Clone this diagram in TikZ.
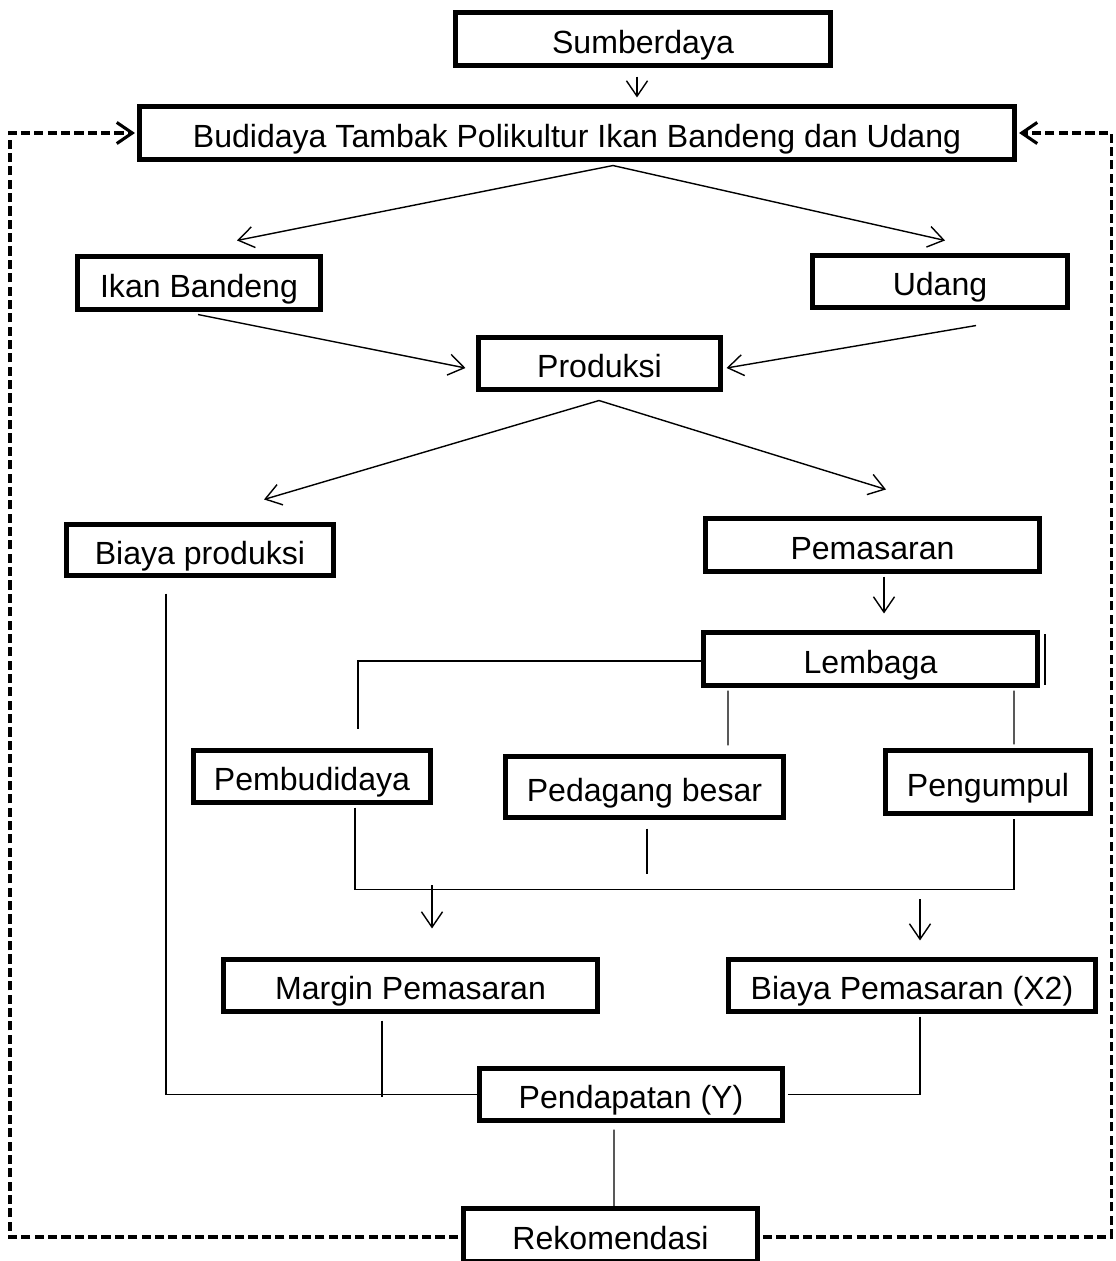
\documentclass[tikz,border=0pt]{standalone}
\usepackage{fontspec}
\setmainfont{Liberation Sans}
\usetikzlibrary{calc,arrows.meta,positioning}
\newlength\px
\setlength\px{0.025cm}

\begin{document}
\begin{tikzpicture}
[x=1\px, y=-1\px,
blok/.style={rectangle, draw, line width=3.6pt, inner sep=0pt, text height=20pt, text depth=0pt, font=\fontsize{22.8}{27}\selectfont},
garis/.style={line width=1pt},
umpan/.style={line width=2.2pt, dash pattern=on 6.5pt off 3pt},
>={Straight Barb[length=11pt, width=15pt]}]

	\useasboundingbox (0,0) rectangle (1116,1261);

	\node (sumb) at (643,39) [blok, minimum width=375\px, minimum height=53\px]{Sumberdaya};
	\node (budi) at (577,133) [blok, minimum width=875\px, minimum height=53\px]{Budidaya Tambak Polikultur Ikan Bandeng dan Udang};
	\node (ikan) at (199,283) [blok, minimum width=243\px, minimum height=53\px]{Ikan Bandeng};
	\node (udang) at (940,281.5) [blok, minimum width=255\px, minimum height=52\px]{Udang};
	\node (prod) at (599.5,363.5) [blok, minimum width=242\px, minimum height=52\px]{Produksi};
	\node (biaya) at (200,550) [blok, minimum width=267\px, minimum height=51\px]{Biaya produksi};
	\node (pemas) at (872.5,545) [blok, minimum width=334\px, minimum height=53\px]{Pemasaran};
	\node (lemb) at (870.5,659) [blok, minimum width=334\px, minimum height=53\px]{Lembaga};
	\node (pembu) at (312,776.5) [blok, minimum width=237\px, minimum height=52\px]{Pembudidaya};
	\node (pedag) at (644.5,787) [blok, minimum width=278\px, minimum height=61\px]{Pedagang besar};
	\node (pengu) at (988,782) [blok, minimum width=205\px, minimum height=63\px]{Pengumpul};
	\node (margin) at (410.5,985.5) [blok, minimum width=374\px, minimum height=52\px]{Margin Pemasaran};
	\node (bpem) at (912,985.5) [blok, minimum width=367\px, minimum height=52\px]{Biaya Pemasaran (X2)};
	\node (pend) at (631,1094.5) [blok, minimum width=303\px, minimum height=52\px]{Pendapatan (Y)};
	\node (rekom) at (610.5,1235) [blok, minimum width=294\px, minimum height=53\px]{Rekomendasi};

	% alur produksi
	\draw[garis,->] ($(sumb.south)+(-6,8.5)$) -- ($(budi.north)+(60,-6.5)$);
	\draw[garis,->] ($(budi.south)+(36,3.5)$) -- ($(ikan.north)+(38,-13.5)$);
	\draw[garis,->] ($(budi.south)+(36,3.5)$) -- ($(udang.north)+(5,-12.5)$);
	\draw[garis,->] ($(ikan.south)+(-1,2.5)$) -- ($(prod.west)+(-10.5,4.5)$);
	\draw[garis,->] ($(udang.south)+(36,15.5)$) -- ($(prod.east)+(3.5,4.5)$);
	\draw[garis,->] ($(prod.south)+(-0.5,8.5)$) -- ($(biaya.north)+(64,-22.5)$);
	\draw[garis,->] ($(prod.south)+(-0.5,8.5)$) -- ($(pemas.north)+(13.5,-26.5)$);
	\draw[garis,->] ($(pemas.south)+(11.5,2.5)$) -- ($(lemb.north)+(13.5,-16.5)$);

	% lembaga pemasaran
	\draw[garis] ($(lemb.west)+(0,2)$) -| ($(pembu.north)+(46,-18.5)$);
	\draw[garis] ($(lemb.south)+(-142.5,2.5)$) -- ($(pedag.north)+(83.5,-8.5)$);
	\draw[garis] ($(lemb.south)+(143.5,2.5)$) -- ($(pengu.north)+(26,-3.5)$);
	\draw[line width=1.5pt] ($(lemb.north east)+(5,4.5)$) -- ($(lemb.south east)+(5,-3.5)$);
	\draw[garis] ($(pembu.south)+(43,2.5)$) |- ($(pengu.south)+(26,73.5)$) -- ($(pengu.south)+(26,2.5)$);
	\draw[garis] ($(pedag.south)+(2.5,8.5)$) -- ($(pedag.south)+(2.5,53.5)$);
	\draw[garis,->] ($(margin.north)+(21.5,-71.5)$) -- ($(margin.north)+(21.5,-28.5)$);
	\draw[garis,->] ($(bpem.north)+(8,-57.5)$) -- ($(bpem.north)+(8,-16.5)$);

	% pendapatan
	\draw[garis] ($(biaya.south)+(-34,15.5)$) |- (pend.west);
	\draw[garis] ($(margin.south)+(-28.5,6.5)$) -- ($(margin.south)+(-28.5,83)$);
	\draw[garis] ($(bpem.south)+(8,2.5)$) |- ($(pend.east)+(3,0)$);
	\draw[garis] ($(pend.south)+(-17,6.5)$) -- ($(rekom.north)+(3.5,0)$);

	% umpan balik
	\draw[umpan,->] ($(rekom.west)+(-3,2)$) -| ($(budi.west)+(-127,0)$) -- ($(budi.west)+(-2,0)$);
	\draw[umpan,->] ($(rekom.east)+(3,2)$) -| ($(budi.east)+(94.5,0)$) -- ($(budi.east)+(2,0)$);

\end{tikzpicture}
\end{document}
